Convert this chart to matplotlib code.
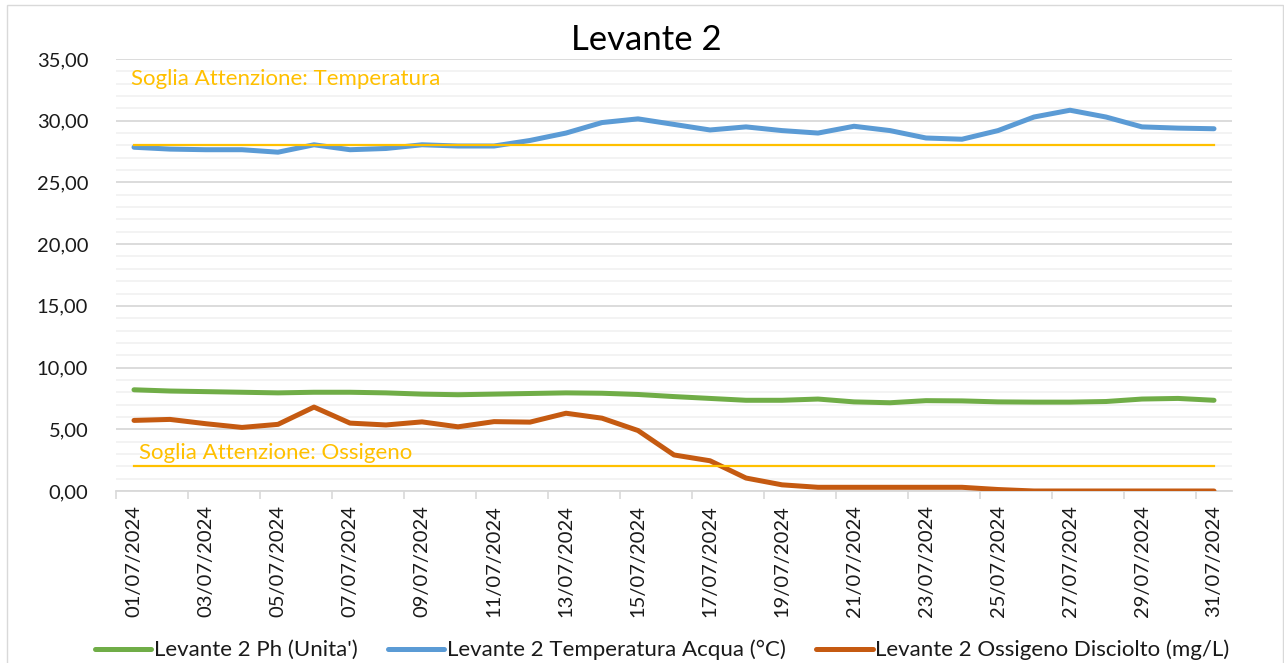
import matplotlib
matplotlib.use("Agg")
import matplotlib.pyplot as plt
from matplotlib.patches import Rectangle
from matplotlib.ticker import MultipleLocator, FixedLocator, FuncFormatter

# ---------------- data ----------------
dates = ["%02d/07/2024" % d for d in range(1, 32)]
ph = [8.2, 8.1, 8.05, 8.0, 7.95, 8.0, 8.0, 7.95, 7.85, 7.8, 7.85, 7.9, 7.95, 7.92, 7.82,
      7.65, 7.5, 7.35, 7.35, 7.45, 7.22, 7.15, 7.32, 7.3, 7.22, 7.2, 7.2, 7.25, 7.45, 7.5, 7.35]
temp = [27.85, 27.7, 27.65, 27.65, 27.45, 28.05, 27.65, 27.75, 28.05, 27.95, 27.95, 28.4,
        29.0, 29.85, 30.15, 29.7, 29.25, 29.5, 29.2, 29.0, 29.55, 29.2, 28.6, 28.5, 29.2,
        30.3, 30.85, 30.3, 29.5, 29.4, 29.35]
oxygen = [5.72, 5.8, 5.45, 5.15, 5.4, 6.8, 5.5, 5.35, 5.6, 5.2, 5.62, 5.58, 6.3, 5.9, 4.9,
          2.92, 2.45, 1.05, 0.5, 0.3, 0.3, 0.3, 0.3, 0.3, 0.12, 0.0, 0.0, 0.0, 0.0, 0.0, 0.0]
temp_threshold = 28.0
oxygen_threshold = 2.0
series_labels = ["Levante 2 Ph (Unita')", "Levante 2 Temperatura Acqua (°C)",
                 "Levante 2 Ossigeno Disciolto (mg/L)"]
title = "Levante 2"
label_temp = "Soglia Attenzione: Temperatura"
label_oxy = "Soglia Attenzione: Ossigeno"

# ---------------- style ----------------
FONT = ["Lato", "DejaVu Sans"]
plt.rcParams["font.family"] = FONT
W, H = 1284, 663
fig = plt.figure(figsize=(W / 100, H / 100), dpi=100)
fig.patch.set_facecolor("white")

# chart border
fig.patches.append(Rectangle((7 / W, -0.05), (1283 - 7) / W, 1 - 5 / H + 0.05,
                             transform=fig.transFigure, fill=False,
                             edgecolor="#D9D9D9", linewidth=1.0))

left, right = 116 / W, 1232 / W
bottom, top = (H - 491) / H, (H - 59) / H
ax = fig.add_axes([left, bottom, right - left, top - bottom])

x = list(range(len(dates)))
GREEN, BLUE, ORANGE, YELLOW = "#70AD47", "#5B9BD5", "#C55A11", "#FFC000"
lw = 3.6
ax.plot(x, ph, color=GREEN, lw=lw, solid_capstyle="round", solid_joinstyle="round",
        label=series_labels[0], zorder=3)
ax.plot(x, temp, color=BLUE, lw=lw, solid_capstyle="round", solid_joinstyle="round",
        label=series_labels[1], zorder=3)
ax.plot(x, oxygen, color=ORANGE, lw=lw, solid_capstyle="round", solid_joinstyle="round",
        label=series_labels[2], zorder=3)
ax.plot(x, [temp_threshold] * len(x), color=YELLOW, lw=1.6, zorder=4)
ax.plot(x, [oxygen_threshold] * len(x), color=YELLOW, lw=1.6, zorder=4)

ax.text(-0.08, 33.35, label_temp, color=YELLOW, fontsize=16, va="center", ha="left")
ax.text(0.15, 3.05, label_oxy, color=YELLOW, fontsize=16, va="center", ha="left")

ax.set_xlim(-0.5, len(x) - 0.5)
ax.set_ylim(0, 35)

# y axis
ax.yaxis.set_major_locator(MultipleLocator(5))
ax.yaxis.set_minor_locator(MultipleLocator(1))
ax.yaxis.set_major_formatter(FuncFormatter(lambda v, p: ("%.2f" % v).replace(".", ",")))
ax.tick_params(axis="y", which="both", length=0, labelsize=14.5, labelcolor="#1a1a1a", pad=20)
ax.grid(axis="y", which="minor", color="#F2F2F2", lw=1.3, zorder=0)
ax.grid(axis="y", which="major", color="#D9D9D9", lw=1.3, zorder=0)
ax.set_axisbelow(True)

# x axis
ax.xaxis.set_major_locator(FixedLocator(x[::2]))
ax.set_xticklabels(dates[::2], rotation=90)
ax.xaxis.set_minor_locator(FixedLocator([i - 0.5 for i in x[::2]]))
ax.tick_params(axis="x", which="major", length=0, labelsize=14.5, labelcolor="#1a1a1a", pad=10)
ax.tick_params(axis="x", which="minor", length=6, color="#D9D9D9", width=1.2)

for s in ["top", "right", "left"]:
    ax.spines[s].set_visible(False)
ax.spines["bottom"].set_color("#D9D9D9")
ax.spines["bottom"].set_linewidth(1.3)

fig.text(646 / W, 1 - 40 / H, title, fontsize=25, ha="center", va="center", color="#000000")

leg = fig.legend(loc="center", bbox_to_anchor=(662 / W, 1 - 650 / H), ncol=3, frameon=False,
                 fontsize=16, handlelength=2.55, handletextpad=0.12, columnspacing=1.35,
                 borderaxespad=0)
for t in leg.get_texts():
    t.set_color("#1a1a1a")

fig.savefig("out.png", dpi=100, facecolor="white")
